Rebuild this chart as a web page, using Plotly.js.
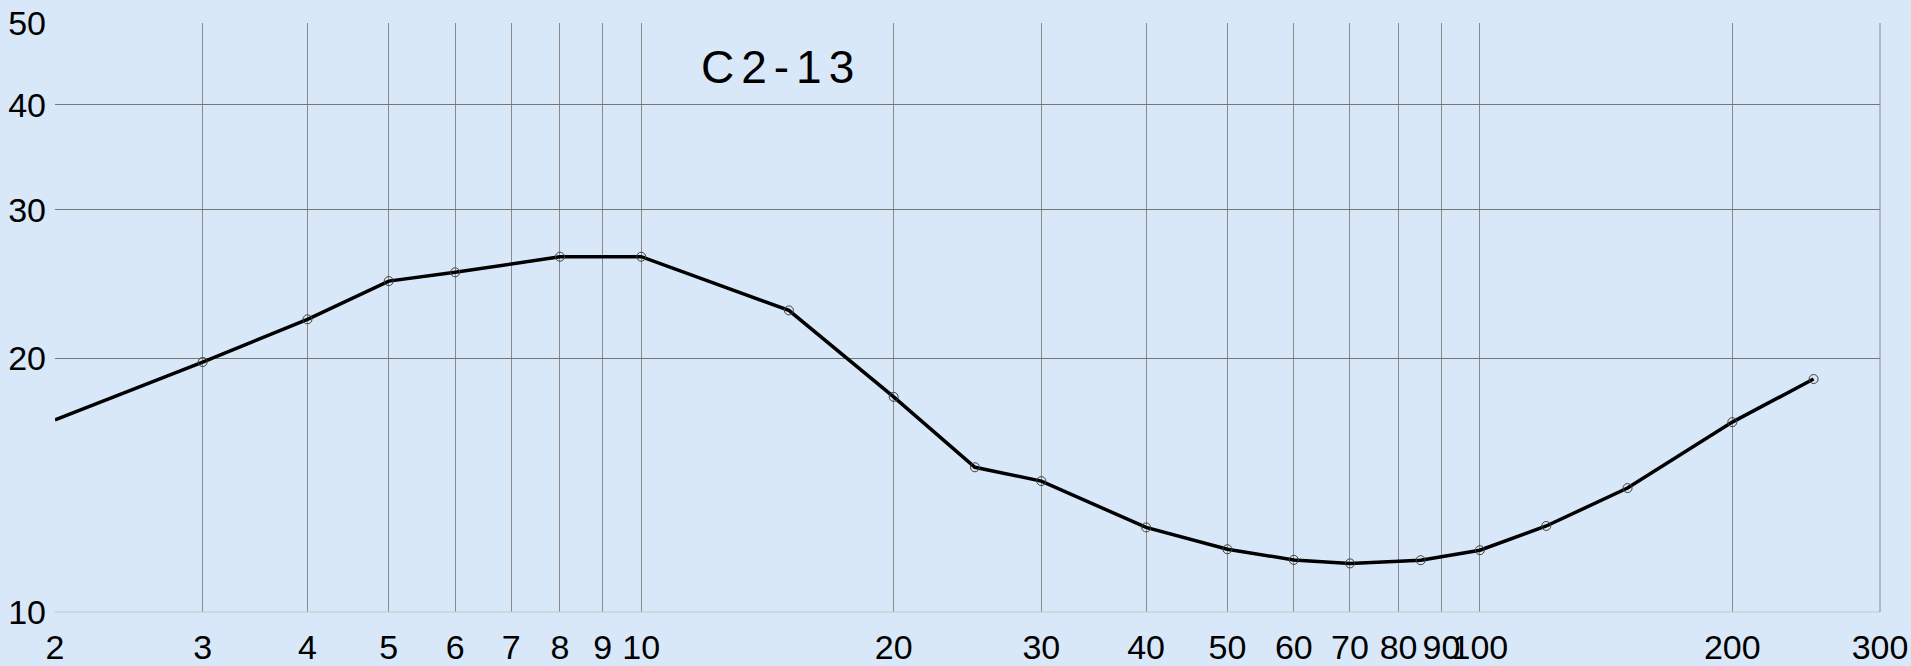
<!DOCTYPE html>
<html>
<head>
<meta charset="utf-8">
<script src="https://cdn.plot.ly/plotly-3.0.1.min.js"></script>
<style>
html,body{margin:0;padding:0;background:#d9e8f8;}
#chart{width:1911px;height:666px;}
.annotation-text{letter-spacing:7px;}
</style>
</head>
<body>
<div id="chart"></div>
<script>
// Data
const xValues = [2, 3, 4, 5, 6, 8, 10, 15, 20, 25, 30, 40, 50, 60, 70, 85, 100, 120, 150, 200, 250];
const yValues = [16.9, 19.8, 22.25, 24.7, 25.3, 26.4, 26.4, 22.8, 18.0, 14.85, 14.3, 12.6, 11.87, 11.53, 11.42, 11.52, 11.84, 12.65, 14.03, 16.8, 18.9];
const xTickVals = [2, 3, 4, 5, 6, 7, 8, 9, 10, 20, 30, 40, 50, 60, 70, 80, 90, 100, 200, 300];
const xTickText = ['2','3','4','5','6','7','8','9','10','20','30','40','50','60','70','80','90','100','200','300'];
const yTickVals = [10, 20, 30, 40, 50];
const yTickText = ['10','20','30','40','50'];
const chartTitle = 'C2-13';

const trace = {
  x: xValues,
  y: yValues,
  type: 'scatter',
  mode: 'lines+markers',
  line: {color: '#000000', width: 3.5},
  marker: {symbol: 'circle-open', size: 9, color: '#404040', line: {width: 1, color: '#404040'}},
  hoverinfo: 'x+y',
  cliponaxis: false
};

const fontFam = 'Arial, "Liberation Sans", sans-serif';

const layout = {
  width: 1911,
  height: 666,
  margin: {l: 55, r: 31, t: 23, b: 54, pad: 0},
  paper_bgcolor: '#d9e8f8',
  plot_bgcolor: '#d9e8f8',
  showlegend: false,
  font: {family: fontFam, color: '#000000', size: 34},
  xaxis: {
    type: 'log',
    range: [Math.log10(2), Math.log10(300)],
    tickmode: 'array',
    tickvals: xTickVals,
    ticktext: xTickText,
    tickangle: 0,
    showgrid: true,
    gridcolor: '#8a8a8a',
    gridwidth: 1,
    zeroline: false,
    showline: false,
    ticks: '',
    ticklabelstandoff: 12,
    tickfont: {family: fontFam, size: 34, color: '#000000'}
  },
  yaxis: {
    type: 'log',
    range: [1, Math.log10(50)],
    tickmode: 'array',
    tickvals: yTickVals,
    ticktext: yTickText,
    showgrid: true,
    gridcolor: '#777777',
    gridwidth: 1,
    zeroline: false,
    showline: false,
    ticks: '',
    ticklabelstandoff: 8,
    tickfont: {family: fontFam, size: 34, color: '#000000'}
  },
  shapes: [
    {type: 'line', xref: 'paper', yref: 'paper', x0: 0, x1: 1, y0: 0, y1: 0, line: {color: '#c4c4c4', width: 1}},
    {type: 'line', xref: 'paper', yref: 'paper', x0: 1, x1: 1, y0: 0, y1: 1, line: {color: '#8a8a8a', width: 1}}
  ],
  annotations: [{
    text: chartTitle,
    xref: 'paper', yref: 'paper',
    x: 0.398, y: 0.925,
    xanchor: 'center', yanchor: 'middle',
    showarrow: false,
    font: {family: fontFam, size: 46, color: '#000000'}
  }]
};

Plotly.newPlot('chart', [trace], layout, {staticPlot: true, displayModeBar: false});
</script>
</body>
</html>
